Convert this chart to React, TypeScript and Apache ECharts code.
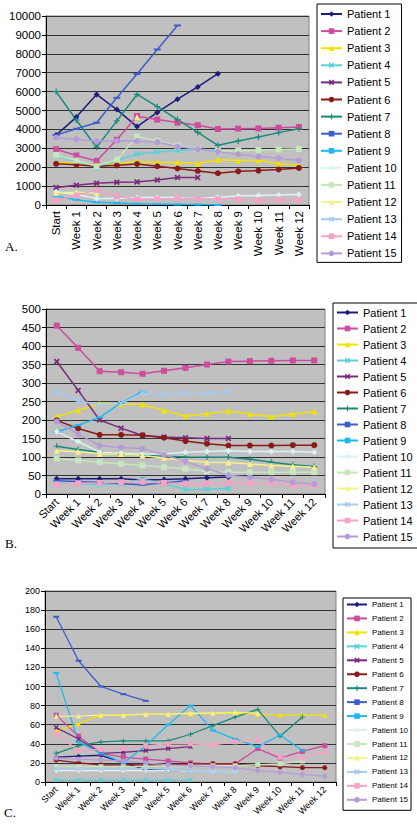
import React, { useEffect, useRef } from "react";
import * as echarts from "echarts";

const N = null;
const categories = ["Start", "Week 1", "Week 2", "Week 3", "Week 4", "Week 5", "Week 6", "Week 7", "Week 8", "Week 9", "Week 10", "Week 11", "Week 12"];
const patients = ["Patient 1", "Patient 2", "Patient 3", "Patient 4", "Patient 5", "Patient 6", "Patient 7", "Patient 8", "Patient 9", "Patient 10", "Patient 11", "Patient 12", "Patient 13", "Patient 14", "Patient 15"];

// Panel A (0 - 10000)
const A1 = [3700, 4650, 5850, 5050, 4150, 4900, 5600, 6250, 6950, N, N, N, N];
const A2 = [2950, 2620, 2330, 3450, 4700, 4520, 4360, 4220, 4020, 4040, 4050, 4090, 4130];
const A3 = [2250, 2200, 2100, 2200, 2300, 2250, 2250, 2200, 2400, 2350, 2350, 2200, 2100];
const A4 = [2600, 2300, 2000, 2350, 2700, 2800, 2880, 2950, 2900, N, N, N, N];
const A5 = [920, 1050, 1150, 1200, 1220, 1320, 1450, 1450, N, N, N, N, N];
const A6 = [2180, 2130, 2050, 2100, 2170, 2050, 1930, 1800, 1680, 1780, 1820, 1880, 1960];
const A7 = [6000, 4500, 3050, 4450, 5850, 5200, 4520, 3840, 3160, 3390, 3600, 3830, 4040];
const A8 = [3700, 4030, 4350, 5670, 6930, 8230, 9500, N, N, N, N, N, N];
const A9 = [460, 280, 140, 110, 70, 50, 30, 20, 0, N, N, N, N];
const A10 = [700, 550, 350, 350, 400, 400, 400, 350, 410, 470, 500, 530, 560];
const A11 = [2650, 2350, 2050, 2400, 3630, 3390, 3150, 2950, 2850, 2870, 2900, 2930, 2960];
const A12 = [640, 680, 640, N, 4650, N, N, N, N, N, N, N, N];
const A13 = [N, N, N, N, N, N, N, N, N, N, N, N, N];
const A14 = [250, 500, 800, 450, 300, 300, 350, 350, 300, 300, 250, 280, 250];
const A15 = [3560, 3470, 3380, 3400, 3390, 3330, 3090, 2950, 2820, 2690, 2560, 2470, 2360];

// Panel B (0 - 500)
const B1 = [41, 41, 41, 41, 38, 39, 41, 44, 46, N, N, N, N];
const B2 = [455, 395, 332, 329, 325, 333, 341, 350, 358, 359, 360, 361, 361];
const B3 = [209, 226, 243, 243, 242, 226, 211, 217, 224, 216, 209, 216, 223];
const B4 = [30, 28, 25, 28, 40, 28, 12, 13, 15, N, N, N, N];
const B5 = [358, 280, 200, 178, 158, 154, 152, 150, 150, N, N, N, N];
const B6 = [199, 177, 160, 160, 159, 152, 143, 136, 131, 131, 131, 132, 132];
const B7 = [129, 120, 113, 108, 105, 102, 100, 99, 99, 94, 86, 79, 74];
const B8 = [36, 34, 31, 28, 25, 30, 36, N, N, N, N, N, N];
const B9 = [168, 186, 207, 246, 277, N, N, N, N, N, N, N, N];
const B10 = [168, 142, 113, 110, 108, 109, 113, 115, 117, 115, 115, 115, 113];
const B11 = [96, 91, 86, 81, 77, 72, 68, 61, 59, 59, 59, 59, 59];
const B12 = [117, 114, 109, 108, 104, 97, 90, 86, 85, 81, 77, 75, 72];
const B13 = [275, 253, 240, 245, 273, 268, 272, 273, 277, N, N, N, N];
const B14 = [26, 29, 30, 32, 33, 30, 28, 28, 30, 29, 29, 24, 23];
const B15 = [196, 162, 131, 126, 122, 106, 88, 68, 51, 45, 40, 32, 27];

// Panel C (0 - 200)
const C1 = [26, 27, 28, 20, 13, 12, 11, N, N, N, N, N, N];
const C2 = [70, 48, 30, 26, 24, 22, 20, 19, 19, 35, 25, 32, 38];
const C3 = [53, 61, 70, 70, 71, 71, 71, 72, 72, 71, 70, 70, 70];
const C4 = [2, 2, 2, 2, 2, 2, 2, N, N, N, N, N, N];
const C5 = [57, 45, 30, 31, 33, 35, 37, N, N, N, N, N, N];
const C6 = [23, 20, 18, 18, 18, 18, 19, 19, 19, 17, 16, 15, 15];
const C7 = [30, 38, 42, 43, 43, 43, 50, 59, 68, 76, 48, 68, N];
const C8 = [173, 127, 100, 92, 85, N, N, N, N, N, N, N, N];
const C9 = [114, 42, 30, 20, 38, 60, 80, 54, 45, 37, 49, 33, N];
const C10 = [12, 12, 12, 12, 12, 12, 11, 11, 11, N, N, N, N];
const C11 = [16, 16, 16, 16, 16, 17, 17, 17, 17, 18, 19, 22, N];
const C12 = [69, 69, 70, 70, 71, 71, 72, 72, 73, 72, N, N, N];
const C13 = [14, 14, 14, 14, 14, 14, 11, 11, 11, N, N, N, N];
const C14 = [50, 33, 34, 35, 38, 40, 40, 39, 42, 44, 26, 25, 31];
const C15 = [25, 24, 23, 22, 20, 18, 17, 16, 15, 12, 10, 8, 6];

const panelA = [A1, A2, A3, A4, A5, A6, A7, A8, A9, A10, A11, A12, A13, A14, A15];
const panelB = [B1, B2, B3, B4, B5, B6, B7, B8, B9, B10, B11, B12, B13, B14, B15];
const panelC = [C1, C2, C3, C4, C5, C6, C7, C8, C9, C10, C11, C12, C13, C14, C15];

const colors = ["#1C1C7A", "#CC4C9E", "#F2E200", "#5CD0DA", "#7A2A7A", "#8B1A1A", "#1A8A7A", "#3A5FCD", "#1EB8EE", "#DDF2F4", "#C6E6BE", "#F8F08A", "#A6CAF0", "#F4A2C6", "#B59CD8"];
const X_SYM = "path://M2,0 L5,3 L8,0 L10,2 L7,5 L10,8 L8,10 L5,7 L2,10 L0,8 L3,5 L0,2 Z";
const PLUS_SYM = "path://M4,0 H6 V4 H10 V6 H6 V10 H4 V6 H0 V4 H4 Z";
const symbols = ["diamond", "rect", "triangle", X_SYM, X_SYM, "circle", PLUS_SYM, "rect", "rect", "diamond", "rect", "triangle", X_SYM, "rect", "circle"];

const FONT = "'Liberation Sans', Arial, sans-serif";

function symSize(i: number, s: number) {
  if (i === 7 || i === 8) return [s + 1, 2];
  return s;
}

function buildSeries(data: (number | null)[][], idx: number, s: number, lw: number) {
  return data.map((arr, i) => ({
    name: patients[i],
    type: "line",
    xAxisIndex: idx,
    yAxisIndex: idx,
    data: arr,
    symbol: symbols[i],
    symbolSize: symSize(i, s),
    showSymbol: true,
    connectNulls: false,
    lineStyle: { color: colors[i], width: lw },
    itemStyle: { color: colors[i] },
    emphasis: { disabled: true },
  }));
}

function xAxis(idx: number, rotate: number, fontSize: number) {
  return {
    type: "category",
    gridIndex: idx,
    data: categories,
    boundaryGap: true,
    axisLine: { show: true, lineStyle: { color: "#000", width: 1 } },
    axisTick: { show: true, length: 4, interval: 0, lineStyle: { color: "#000" } },
    axisLabel: { interval: 0, rotate, fontSize, color: "#000", fontFamily: FONT, margin: 6 },
    splitLine: { show: false },
  };
}

function yAxis(idx: number, max: number, interval: number, fontSize: number) {
  return {
    type: "value",
    gridIndex: idx,
    min: 0,
    max,
    interval,
    axisLine: { show: true, lineStyle: { color: "#000", width: 1 } },
    axisTick: { show: true, length: 4, lineStyle: { color: "#000" } },
    axisLabel: { fontSize, color: "#000", fontFamily: FONT, margin: 5, formatter: (v: number) => String(v) },
    splitLine: { show: true, lineStyle: { color: "#333333", width: 1 } },
  };
}

function legend(left: number, top: number, padding: number[], itemWidth: number, fontSize: number, lineHeight: number, itemGap: number) {
  return {
    orient: "vertical",
    left,
    top,
    padding,
    itemWidth,
    itemHeight: 7,
    itemGap,
    selectedMode: false,
    borderColor: "#000",
    borderWidth: 1,
    backgroundColor: "#fff",
    textStyle: { fontSize, lineHeight, color: "#000", fontFamily: FONT },
    data: patients,
  };
}

const gridStyle = { show: true, backgroundColor: "#C0C0C0", borderColor: "#808080", borderWidth: 1 };

export default function App() {
  const ref = useRef<HTMLDivElement>(null);
  useEffect(() => {
    if (!ref.current) return;
    const chart = echarts.init(ref.current, null, { renderer: "svg" });
    chart.setOption({
      animation: false,
      grid: [
        { left: 46, top: 16, width: 263, height: 189, ...gridStyle },
        { left: 46, top: 309, width: 279, height: 185, ...gridStyle },
        { left: 45, top: 591, width: 291, height: 191, ...gridStyle },
      ],
      xAxis: [xAxis(0, 90, 11.5), xAxis(1, 45, 11), xAxis(2, 45, 9)],
      yAxis: [yAxis(0, 10000, 1000, 11.5), yAxis(1, 500, 50, 11.5), yAxis(2, 200, 20, 9)],
      legend: [
        legend(317, 4, [3, 5, 2, 3], 21, 11, 14, 3.1),
        legend(333, 303, [3, 5, 5, 3], 21, 11, 13, 3),
        legend(343, 598, [1, 3, 5, 3], 20, 8, 11, 2.95),
      ],
      graphic: [
        { type: "text", left: 5, top: 240, style: { text: "A.", fontSize: 13, fontFamily: "'Liberation Serif', serif", fill: "#000" } },
        { type: "text", left: 5, top: 537, style: { text: "B.", fontSize: 13, fontFamily: "'Liberation Serif', serif", fill: "#000" } },
        { type: "text", left: 4, top: 806, style: { text: "C.", fontSize: 13, fontFamily: "'Liberation Serif', serif", fill: "#000" } },
      ],
      series: [
        ...buildSeries(panelA, 0, 6, 1.5),
        ...buildSeries(panelB, 1, 6, 1.5),
        ...buildSeries(panelC, 2, 5, 1.3),
      ],
    });
    return () => chart.dispose();
  }, []);
  return <div ref={ref} style={{ position: "absolute", left: 0, top: 0, width: 417, height: 826, background: "#fff" }} />;
}
